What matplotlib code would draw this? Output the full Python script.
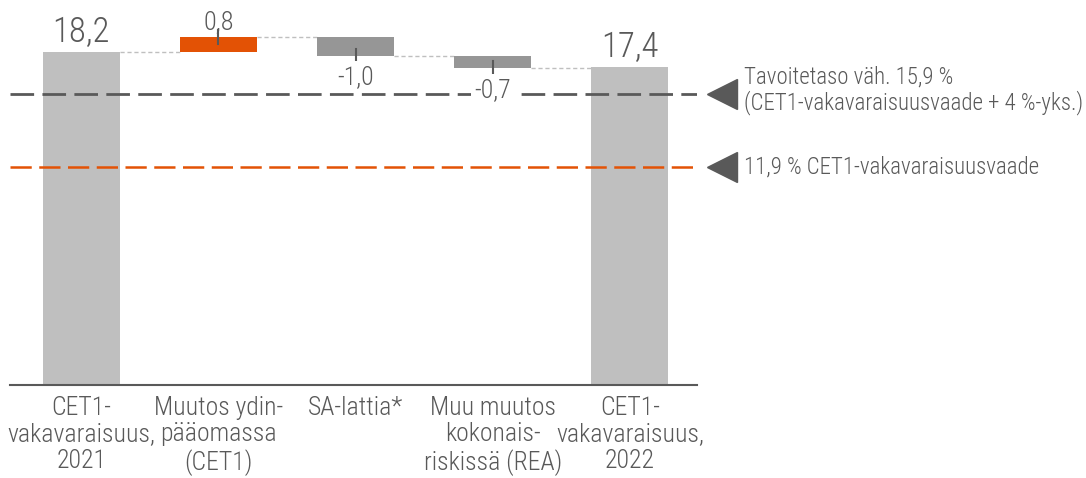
import matplotlib
matplotlib.use("Agg")
import matplotlib.pyplot as plt
import numpy as np

plt.rcParams['font.family'] = ['Roboto Condensed', 'Roboto', 'DejaVu Sans']
plt.rcParams['font.weight'] = 'light'

# ---- data ----
categories = ["CET1-\nvakavaraisuus,\n2021", "Muutos ydin-\npääomassa\n(CET1)", "SA-lattia*",
              "Muu muutos\nkokonais-\nriskissä (REA)", "CET1-\nvakavaraisuus,\n2022"]
start_value = 18.2
changes = [0.8, -1.0, -0.7]
end_value = 17.4
value_labels = ["18,2", "0,8", "-1,0", "-0,7", "17,4"]
target_level = 15.9
requirement_level = 11.9
target_text = "Tavoitetaso väh. 15,9 %\n(CET1-vakavaraisuusvaade + 4 %-yks.)"
requirement_text = "11,9 % CET1-vakavaraisuusvaade"

# ---- styles ----
TEXT = "#595959"
LIGHT = "#BFBFBF"
DARK = "#969696"
ORANGE = "#E35205"

fig = plt.figure(figsize=(10.86, 4.78), dpi=100)
ax = fig.add_axes([10 / 1086, 93 / 478, 687 / 1086, 385 / 478])

x = np.arange(len(categories))
w = 0.56

# compute waterfall
bottoms, heights, colors = [], [], []
bottoms.append(0); heights.append(start_value); colors.append(LIGHT)
level = start_value
for c in changes:
    new = level + c
    bottoms.append(min(level, new)); heights.append(abs(c))
    colors.append(ORANGE if c > 0 else DARK)
    level = new
bottoms.append(0); heights.append(end_value); colors.append(LIGHT)

ax.bar(x, heights, bottom=bottoms, width=w, color=colors, zorder=2)

# connectors
levels = [start_value]
lv = start_value
for c in changes:
    lv += c
    levels.append(lv)
for i in range(len(levels)):
    ax.plot([x[i] + w / 2, x[i + 1] - w / 2], [levels[i], levels[i]], color=LIGHT,
            lw=1, ls=(0, (3, 2)), zorder=1)

# small ticks at end of change bars
prev = start_value
for i, c in enumerate(changes):
    endv = prev + c
    ax.plot([x[i + 1], x[i + 1]], [endv - 0.38, endv + 0.38], color=TEXT, lw=1.5, zorder=4)
    prev = endv

# reference lines
ax.axhline(target_level, color="#595959", lw=2, dashes=(8.5, 3), zorder=3)
ax.axhline(requirement_level, color=ORANGE, lw=1.8, dashes=(8.5, 3), zorder=3)

# value labels
ax.annotate(value_labels[0], (x[0], start_value), xytext=(0, 7.2), textcoords="offset points",
            ha="center", va="baseline", fontsize=25, color=TEXT)
ax.annotate(value_labels[-1], (x[-1], end_value), xytext=(0, 7.2), textcoords="offset points",
            ha="center", va="baseline", fontsize=25, color=TEXT)
prev = start_value
for i, c in enumerate(changes):
    top = max(prev, prev + c)
    bot = min(prev, prev + c)
    if c > 0:
        ax.annotate(value_labels[i + 1], (x[i + 1], top), xytext=(0, 5.8), textcoords="offset points",
                    ha="center", va="baseline", fontsize=19, color=TEXT, zorder=5)
    else:
        ax.annotate(value_labels[i + 1], (x[i + 1], bot), xytext=(0, -7), textcoords="offset points",
                    ha="center", va="top", fontsize=18.5, color=TEXT, zorder=5,
                    bbox=dict(boxstyle="square,pad=0.15", fc="white", ec="none"))
    prev += c

ax.set_xlim(-0.52, 4.49)
ax.set_ylim(0, 21.04)
ax.set_xticks(x)
ax.set_xticklabels(categories, fontsize=18.5, color=TEXT, linespacing=1.12)
ax.tick_params(axis="x", length=0, pad=8)
ax.set_yticks([])
for s in ["top", "right", "left"]:
    ax.spines[s].set_visible(False)
ax.spines["bottom"].set_color("#595959")
ax.spines["bottom"].set_linewidth(1.5)

# right annotations
trans = ax.get_yaxis_transform()
for yv in (target_level, requirement_level):
    ax.plot([1.0358], [yv], marker="<", markersize=21, color="#595959", transform=trans,
            clip_on=False, linestyle="none")
ax.text(1.069, target_level + 0.2, target_text, transform=trans, ha="left", va="center",
        fontsize=16.5, color=TEXT, linespacing=1.12)
ax.text(1.069, requirement_level, requirement_text, transform=trans, ha="left", va="center",
        fontsize=16.5, color=TEXT)

fig.savefig("out.png", dpi=100)
